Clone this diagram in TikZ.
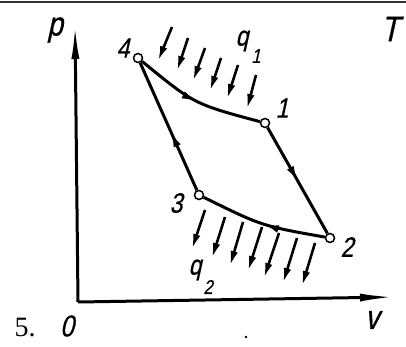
\documentclass[tikz,border=0pt]{standalone}
\usepackage{fontspec}
\setmainfont{Liberation Serif}
\newfontfamily\gost[FakeSlant=0.22,FakeStretch=0.82,FakeBold=0.6]{Liberation Sans}
\usetikzlibrary{arrows.meta,decorations.markings}
\begin{document}
\begin{tikzpicture}[x=1pt,y=-1pt,
  lbl/.style={font=\gost\fontsize{28}{30}\selectfont,inner sep=0pt},
  sublbl/.style={font=\gost\fontsize{20}{22}\selectfont,inner sep=0pt},
  pt/.style={circle,draw,fill=white,line width=1.5pt,minimum size=9pt,inner sep=0pt},
  proc/.style={line width=3pt,postaction={decorate},
    decoration={markings,mark=at position #1 with {\arrow{Latex[length=17pt,width=7.5pt]}}}},
  axis/.style={line width=3pt,-{Latex[length=36pt,width=8pt]}},
  heat/.style={line width=2.6pt,-{Latex[length=15pt,width=7.5pt]}}]
\useasboundingbox (0,0) rectangle (406,347);
\draw[line width=2pt,black!80] (0,2) -- (406,2);
% axes
\coordinate (O) at (78,302);
\coordinate (ytip) at (75,23);
\coordinate (xtip) at (396,297);
\draw[axis] (O) -- (ytip);
\draw[axis] (O) -- (xtip);
% states
\node[pt] (n4) at (138,58) {};
\node[pt] (n1) at (265,123) {};
\node[pt] (n2) at (330,238) {};
\node[pt] (n3) at (199,195) {};
% processes
\draw[proc=0.52] (n4) .. controls (194,104) .. (n1);
\draw[proc=0.52] (n1) -- (n2);
\draw[proc=0.5] (n2) .. controls (262,226) .. (n3);
\draw[proc=0.47] (n3) -- (n4);
% heat supplied q1
\foreach \i/\xa/\ya/\xb/\yb in {1/172/27/158/61, 2/188/38/177/71, 3/205/48/193/81, 4/221/58/210/91, 5/238/65/227/99, 6/256/75/247/109}{
  \coordinate (qa\i) at (\xa,\ya);
  \coordinate (qb\i) at (\xb,\yb);
  \draw[heat] (qa\i) -- (qb\i);
}
% heat rejected q2
\foreach \i/\xa/\ya/\xb/\yb in {1/205/210/192/249, 2/225/217/212/258, 3/243/222/230/266, 4/262/227/248/271, 5/279/233/264/278, 6/297/238/283/283, 7/315/243/302/286}{
  \coordinate (ra\i) at (\xa,\ya);
  \coordinate (rb\i) at (\xb,\yb);
  \draw[heat] (ra\i) -- (rb\i);
}
% labels
\node[lbl,font=\gost\fontsize{34}{36}\selectfont] (lp) at (55,30) {p};
\node[lbl,font=\gost\fontsize{36}{38}\selectfont] (lT) at (390,29) {T};
\node[lbl] (l4) at (123,48) {4};
\node[lbl] (l1) at (282,108) {1};
\node[lbl] (l2) at (347,247) {2};
\node[lbl] (l3) at (176,203) {3};
\node[lbl] (lq1) at (242,41) {q};
\node[sublbl] (lq1s) at (256,56) {1};
\node[lbl] (lq2) at (195,270) {q};
\node[sublbl] (lq2s) at (208,287) {2};
\node[lbl,font=\gost\fontsize{30}{32}\selectfont] (l0) at (67,326) {0};
\node[lbl,font=\gost\fontsize{34}{36}\selectfont] (lv) at (372,320) {v};
\node[inner sep=0pt,font=\fontsize{28}{30}\selectfont] (l5) at (25,328) {5.};
\fill (246,337) circle (1.4pt);
\end{tikzpicture}
\end{document}
